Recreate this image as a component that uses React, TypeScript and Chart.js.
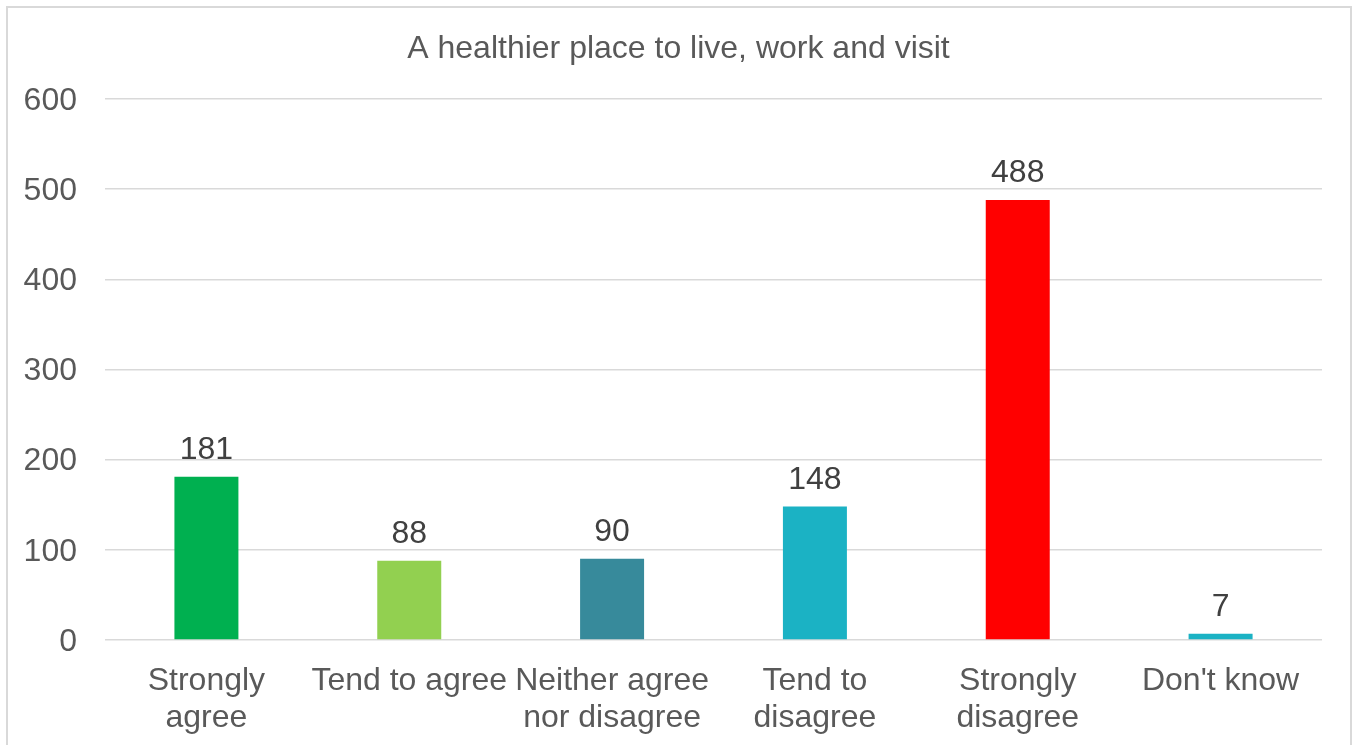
import React, { useEffect, useRef } from "react";
import { Chart, registerables } from "chart.js";

Chart.register(...registerables);

const TITLE = "A healthier place to live, work and visit";
const CATEGORIES: (string | string[])[] = [
  ["Strongly", "agree"],
  "Tend to agree",
  ["Neither agree", "nor disagree"],
  ["Tend to", "disagree"],
  ["Strongly", "disagree"],
  "Don't know",
];
const VALUES = [181, 88, 90, 148, 488, 7];
const BAR_COLORS = ["#00B050", "#92D050", "#378A9B", "#1BB2C4", "#FF0000", "#1BB2C4"];
const Y_MIN = 0;
const Y_MAX = 600;
const Y_STEP = 100;

const FONT = "'Liberation Sans', Arial, sans-serif";

const frameAndLabels = {
  id: "frameAndLabels",
  beforeDraw(chart: any) {
    const ctx = chart.ctx;
    ctx.save();
    ctx.fillStyle = "#FFFFFF";
    ctx.fillRect(0, 0, chart.width, chart.height);
    ctx.strokeStyle = "#D9D9D9";
    ctx.lineWidth = 2;
    ctx.strokeRect(7, 7, 1344, 800);
    ctx.restore();
  },
  afterDatasetsDraw(chart: any) {
    const ctx = chart.ctx;
    const meta = chart.getDatasetMeta(0);
    ctx.save();
    ctx.fillStyle = "#404040";
    ctx.font = `32px ${FONT}`;
    ctx.textAlign = "center";
    ctx.textBaseline = "alphabetic";
    meta.data.forEach((bar: any, i: number) => {
      ctx.fillText(String(VALUES[i]), bar.x, bar.y - 18);
    });
    ctx.restore();
  },
};

export default function App() {
  const ref = useRef<HTMLCanvasElement | null>(null);
  useEffect(() => {
    if (!ref.current) return;
    const chart = new Chart(ref.current, {
      type: "bar",
      data: {
        labels: CATEGORIES,
        datasets: [
          {
            data: VALUES,
            backgroundColor: BAR_COLORS,
            borderWidth: 0,
            categoryPercentage: 1,
            barPercentage: 0.3155,
            yAxisID: "y",
          },
        ],
      },
      options: {
        animation: false,
        responsive: false,
        devicePixelRatio: 1,
        layout: { padding: 0 },
        plugins: {
          legend: { display: false },
          tooltip: { enabled: false },
          title: {
            display: true,
            text: TITLE,
            color: "#595959",
            font: { family: FONT, size: 32, weight: "normal" },
            padding: { top: 30, bottom: 30.6 },
          },
        },
        scales: {
          x: {
            grid: { display: false, drawTicks: false },
            border: { display: false },
            ticks: {
              color: "#595959",
              font: { family: FONT, size: 32, lineHeight: 1.14 },
              maxRotation: 0,
              minRotation: 0,
              autoSkip: false,
              padding: 23,
            },
            afterFit(scale: any) {
              scale.height = 105;
            },
          },
          y: {
            min: Y_MIN,
            max: Y_MAX,
            grid: { color: "#D9D9D9", lineWidth: 1.5, drawTicks: false },
            border: { display: false },
            ticks: {
              stepSize: Y_STEP,
              color: "#595959",
              font: { family: FONT, size: 32 },
              padding: 28,
              labelOffset: 2,
            },
            afterFit(scale: any) {
              scale.width = 105;
            },
          },
          yRight: {
            type: "linear",
            position: "right",
            min: Y_MIN,
            max: Y_MAX,
            grid: { display: false, drawTicks: false },
            border: { display: false },
            ticks: { display: false },
            afterFit(scale: any) {
              scale.width = 35;
            },
          },
        },
      },
      plugins: [frameAndLabels],
    });
    return () => chart.destroy();
  }, []);
  return (
    <div style={{ position: "fixed", left: 0, top: 0, width: 1357, height: 745, overflow: "hidden", background: "#fff" }}>
      <canvas ref={ref} width={1357} height={745} style={{ display: "block" }} />
    </div>
  );
}
